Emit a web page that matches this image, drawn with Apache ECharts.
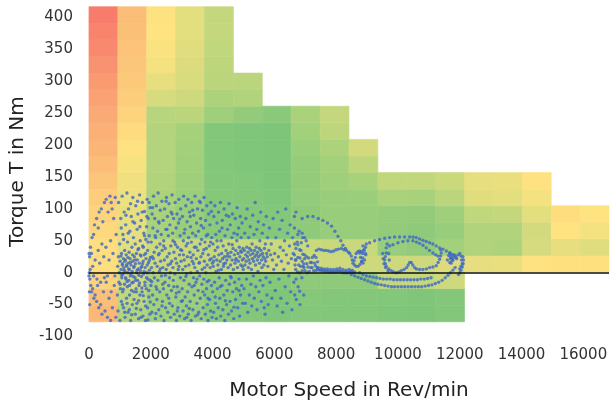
<!DOCTYPE html>
<html>
<head>
<meta charset="utf-8">
<script src="https://cdn.jsdelivr.net/npm/echarts@6/dist/echarts.min.js"></script>
<style>
    html, body {margin: 0; padding: 0; background: #fff;}
    #main {width: 612px; height: 408px;}
</style>
</head>
<body>
<div id="main"></div>
<script>
    // efficiency map bins
    var speedStep = 935;
    var torqueStart = -77;
    var torqueStep = 26;
    var speedTicks = [0, 2000, 4000, 6000, 8000, 10000, 12000, 14000, 16000];

    // efficiency per speed column, bottom row first (0 = red, 50 = yellow, 100 = green)
    var effCol0 = [24, 28, 40, 47, 47, 43, 40, 37, 32, 26, 23, 21, 19, 16, 13, 10, 7, 5, 2];
    var effCol1 = [72, 68, 62, 58, 58, 57, 56, 55, 54, 52, 49, 45, 40, 37, 34, 32, 30, 28, 27];
    var effCol2 = [78, 78, 74, 64, 64, 75, 75, 74, 73, 72, 72, 72, 71, 62, 57, 53, 51, 50, 49];
    var effCol3 = [82, 81, 78, 65, 65, 82, 82, 81, 80, 79, 78, 77, 70, 64, 61, 60, 59, 58, 58];
    var effCol4 = [90, 89, 86, 66, 66, 89, 91, 92, 93, 94, 94, 94, 80, 74, 70, 69, 68, 67, 67];
    var effCol5 = [93, 93, 90, 65, 66, 92, 93, 93, 94, 95, 95, 95, 86, 73, 70];
    var effCol6 = [95, 95, 92, 63, 65, 92, 94, 95, 96, 96, 96, 96, 90];
    var effCol7 = [93, 92, 88, 63, 65, 88, 88, 87, 86, 85, 82, 78, 75];
    var effCol8 = [94, 93, 88, 64, 66, 84, 84, 83, 80, 78, 74, 69, 67];
    var effCol9 = [94, 93, 88, 64, 66, 84, 84, 82, 76, 69, 63];
    var effCol10 = [95, 94, 67, 64, 84, 86, 85, 75, 68];
    var effCol11 = [96, 95, 67, 64, 86, 88, 86, 76, 68];
    var effCol12 = [94, 93, 64, 60, 78, 84, 80, 70, 65];
    var effCol13 = [57, 73, 73, 68, 59, 57];
    var effCol14 = [56, 74, 73, 67, 58, 56];
    var effCol15 = [49, 62, 63, 58, 53, 49];
    var effCol16 = [48, 57, 50, 46];
    var effCol17 = [48, 59, 53, 50];
    var effColumns = [effCol0, effCol1, effCol2, effCol3, effCol4, effCol5, effCol6, effCol7, effCol8,
        effCol9, effCol10, effCol11, effCol12, effCol13, effCol14, effCol15, effCol16, effCol17];
    var firstRow = [0, 0, 0, 0, 0, 0, 0, 0, 0, 0, 0, 0, 0, 3, 3, 3, 3, 3];

    // measured operating points [speed, torque]
    var lowSpeedPoints = [
        [20,25],[50,40],[80,30],[100,55],[150,60],[180,75],[250,85],[300,70],[330,95],[400,100],[450,80],[500,110],
        [560,115],[620,95],[680,120],[720,110],[750,100],[800,85],[850,118],
        [30,-10],[60,-20],[90,-30],[120,-25],[160,-40],[200,-35],[250,-45],[280,-20],[320,-55],[380,-50],[420,-65],
        [470,-30],[520,-60],[560,-15],[600,-70],[650,-40],[700,-75],[760,-55],[820,-20],[870,-70],
        [10,0],[40,5],[120,10],[200,20],[300,35],[350,15],[420,45],[480,25],[550,40],[600,-5],[650,20],[700,50],
        [780,30],[840,-5],[880,60],[150,-5],[260,-10],[380,-15],[500,-8],[720,-30],[0,-5],[15,-30],[5,30],[25,-50]
    ];
    var band1Points = [
        [920,-35],[930,10],[940,-60],[955,25],[960,110],[970,-15],[985,0],[995,45],[1005,-75],[1010,18],[1020,-25],
        [1030,85],[1040,5],[1050,-45],[1055,30],[1065,-8],[1075,120],[1080,12],[1090,-30],[1100,60],[1105,-2],
        [1115,22],[1120,-55],[1130,8],[1140,95],[1150,-18],[1155,35],[1165,2],[1170,-70],[1180,20],[1190,75],
        [1200,-10],[1205,28],[1215,-40],[1225,10],[1230,125],[1240,-22],[1250,48],[1255,0],[1265,-62],[1270,15],
        [1280,100],[1290,-12],[1300,32],[1305,5],[1315,-35],[1325,65],[1330,22],[1340,-5],[1350,-75],[1360,12],
        [1370,88],[1380,-28],[1390,40],[1395,2],[1405,-50],[1415,18],[1420,118],[1430,-15],[1440,55],[1450,8],
        [1460,-42],[1470,25],[1480,78],[1490,-8],[1500,-65],[1505,14],[1515,105],[1525,-25],[1535,30],[1540,0],
        [1550,-48],[1560,68],[1565,20],[1575,-12],[1585,92],[1595,6],[1605,-72],[1610,38],[1620,-20],[1630,15],
        [1640,122],[1650,-35],[1660,50],[1665,3],[1675,-58],[1685,26],[1690,82],[1700,-6],[1710,10],[1720,-30],
        [1730,110],[1740,42],[1750,-68],[1755,18],[1765,-2],[1775,62],[1785,-45],[1790,28],[1800,96],[1810,-15],
        [1820,8],[1830,-75],[1840,52],[1845,22],[1855,-25],[1865,72],[1875,0],[1885,115],[1895,-55],[1900,35],
        [1910,-10],[1920,85],[1930,16],[1940,-38],[1950,58],[1960,4],[1970,-65],[1980,102],[1990,24]
    ];
    var band2Points = [
        [2005,-20],[2015,48],[2025,8],[2035,-62],[2045,92],[2050,25],[2060,-35],[2070,70],[2080,0],[2090,120],
        [2100,-50],[2110,32],[2120,-8],[2130,85],[2140,15],[2150,-72],[2160,55],[2170,-22],[2180,105],[2190,40],
        [2200,-42],[2210,10],[2220,65],[2230,-12],[2240,125],[2250,28],[2260,-58],[2270,78],[2280,2],[2290,-30],
        [2300,45],[2310,98],[2320,18],[2330,-68],[2340,60],[2350,-5],[2360,112],[2370,35],[2380,-45],[2390,8],
        [2400,82],[2410,-25],[2420,50],[2430,-75],[2440,20],[2450,100],[2460,-15],[2470,38],[2480,-55],[2490,68],
        [2500,5],[2510,118],[2520,-35],[2530,25],[2540,88],[2550,-62],[2560,12],[2570,58],[2580,-20],[2590,108],
        [2600,30],[2610,-48],[2620,75],[2630,0],[2640,-70],[2650,42],[2660,95],[2670,-28],[2680,18],[2690,122],
        [2700,-52],[2710,62],[2720,8],[2730,-12],[2740,85],[2750,32],[2760,-65],[2770,48],[2780,-2],[2790,110],
        [2800,22],[2810,-38],[2820,70],[2830,-75],[2840,15],[2850,92],[2860,-22],[2870,40],[2880,-55],[2890,5],
        [2900,78],[2910,115],[2920,-30],[2930,28],[2940,-68],[2950,58],[2960,-8],[2970,100],[2980,18],[2990,-45]
    ];
    var band3Points = [
        [3005,35],[3015,-25],[3025,88],[3035,5],[3045,-60],[3055,50],[3065,120],[3075,-12],[3085,20],[3095,-72],
        [3105,68],[3115,-38],[3125,10],[3135,105],[3145,42],[3155,-52],[3165,-2],[3175,80],[3185,25],[3195,-30],
        [3205,115],[3215,-65],[3225,55],[3235,12],[3245,-18],[3255,95],[3265,32],[3275,-45],[3285,72],[3295,0],
        [3305,-75],[3315,48],[3325,110],[3335,-22],[3345,18],[3355,62],[3365,-58],[3375,28],[3385,-8],[3395,90],
        [3405,-35],[3415,40],[3425,8],[3435,120],[3445,-68],[3455,58],[3465,-15],[3475,22],[3485,78],[3495,-48],
        [3505,2],[3515,100],[3525,35],[3535,-28],[3545,65],[3555,-62],[3565,15],[3575,112],[3585,-5],[3595,45],
        [3605,-40],[3615,85],[3625,25],[3635,-72],[3645,52],[3655,-18],[3665,5],[3675,98],[3685,30],[3695,-55],
        [3705,70],[3715,-10],[3725,118],[3735,18],[3745,-35],[3755,48],[3765,-65],[3775,82],[3785,0],[3795,38],
        [3805,-25],[3815,105],[3825,12],[3835,-50],[3845,60],[3855,-75],[3865,28],[3875,92],[3885,-12],[3895,42],
        [3905,-42],[3915,75],[3925,8],[3935,-60],[3945,110],[3955,22],[3965,-20],[3975,55],[3985,-70],[3995,15]
    ];
    var band4Points = [
        [4005,-30],[4015,45],[4025,10],[4035,-62],[4045,88],[4055,25],[4065,-15],[4075,105],[4085,35],[4095,-48],
        [4105,60],[4115,2],[4125,-72],[4135,20],[4145,78],[4155,-25],[4165,40],[4175,12],[4185,-55],[4195,95],
        [4205,28],[4215,-8],[4225,65],[4235,-40],[4245,18],[4255,110],[4265,-68],[4275,50],[4285,5],[4295,30],
        [4305,-20],[4315,82],[4325,22],[4335,-58],[4345,42],[4355,10],[4365,-35],[4375,100],[4385,25],[4395,-75],
        [4405,58],[4415,15],[4425,-12],[4435,35],[4445,90],[4455,-50],[4465,20],[4475,-28],[4485,68],[4495,30],
        [4505,8],[4515,-65],[4525,45],[4535,108],[4545,-18],[4555,25],[4565,-45],[4575,75],[4585,12],[4595,32],
        [4605,-8],[4615,-60],[4625,55],[4635,20],[4645,92],[4655,-30],[4665,38],[4675,5],[4685,-72],[4695,62],
        [4705,28],[4715,-15],[4725,15],[4735,85],[4745,-42],[4755,35],[4765,22],[4775,-25],[4785,50],[4795,102],
        [4805,8],[4815,-55],[4825,30],[4835,18],[4845,70],[4855,-10],[4865,40],[4875,-68],[4885,25],[4895,88],
        [4905,-35],[4915,12],[4925,55],[4935,32],[4945,-20],[4955,78],[4965,20],[4975,-48],[4985,38],[4995,5]
    ];
    var band5Points = [
        [5010,22],[5020,-25],[5030,35],[5040,62],[5050,12],[5060,-48],[5070,28],[5080,85],[5090,18],[5100,-10],
        [5110,40],[5120,100],[5130,25],[5140,-62],[5150,32],[5160,8],[5170,55],[5180,20],[5190,-35],[5200,38],
        [5210,15],[5220,72],[5230,28],[5240,-18],[5250,35],[5260,5],[5270,-52],[5280,45],[5290,22],[5300,90],
        [5310,30],[5320,-5],[5330,18],[5340,60],[5350,-40],[5360,35],[5370,25],[5380,110],[5390,12],[5400,-22],
        [5410,40],[5420,28],[5430,68],[5440,-58],[5450,20],[5460,32],[5470,2],[5480,80],[5490,25],[5500,-30],
        [5510,38],[5520,15],[5530,50],[5540,-12],[5550,28],[5560,95],[5570,35],[5580,-45],[5590,20],[5600,8],
        [5610,62],[5620,30],[5630,-20],[5640,25],[5650,75],[5660,12],[5670,-55],[5680,38],[5690,22],[5700,-65],
        [5710,45],[5720,18],[5730,-8],[5740,88],[5750,30],[5760,-35],[5770,25],[5780,55],[5790,10],[5800,-50],
        [5820,35],[5840,70],[5860,-15],[5880,28],[5900,45],[5920,-40],[5940,20],[5960,85],[5980,5]
    ];
    var band6Points = [
        [6010,30],[6030,-28],[6050,55],[6070,12],[6090,-52],[6110,95],[6130,25],[6150,-10],[6170,68],[6190,40],
        [6210,-40],[6230,18],[6250,82],[6270,-62],[6290,35],[6310,5],[6330,50],[6350,-22],[6370,100],[6390,28],
        [6410,-48],[6430,62],[6450,15],[6470,-5],[6490,42],[6510,75],[6530,-30],[6550,22],[6570,-58],[6590,55],
        [6610,30],[6630,-15],[6650,88],[6680,20],[6710,-42],[6740,48],[6770,-22],[6800,65],[6830,-50],[6860,35],
        [6890,-8],[6920,55],[6950,-35],[6980,28],
        [6660,45],[6700,38],[6760,44],[6820,36],[6870,47],[6925,29],[7030,50],[7080,42],[6650,28],[6700,-10],
        [6660,-35],[6820,-29],[6650,70],[6760,60],[6900,62],[6980,55],[6700,95]
    ];
    var extraPoints = [
        [1012,-18],[1037,26],[1063,-4],[1088,14],[1112,-26],[1137,4],[1162,18],[1187,-8],[1212,12],[1237,-14],
        [1262,24],[1287,6],[1312,-20],[1337,16],[1362,-2],[1387,-16],[1412,28],[1437,-6],[1462,10],[1487,20],
        [1512,-12],[1537,-30],[1562,4],[1587,36],[1612,-4],[1637,-16],[1662,28],[1687,8],[1712,-24],[1737,14],
        [1762,40],[1787,2],[1812,-20],[1837,30],[1862,-8],[1887,12],[1912,48],[1937,-28],[1962,20],[1987,-12],
        [1047,70],[1123,52],[1198,90],[1273,62],[1348,108],[1423,80],[1498,45],[1573,112],[1648,72],[1723,95],
        [1798,58],[1873,88],[1948,110],
        [1083,-50],[1158,-62],[1233,-48],[1308,-58],[1383,-66],[1458,-30],[1533,-56],[1608,-44],[1683,-70],
        [1758,-36],[1833,-52],[1908,-74],[1983,-46],
        [2032,-14],[2087,22],[2143,58],[2198,-26],[2254,80],[2309,6],[2364,-52],[2418,42],[2473,-4],[2528,68],
        [2583,-40],[2637,14],[2692,92],[2747,-22],[2803,44],[2857,-60],[2912,10],[2967,36],[2058,102],[2168,-64],
        [2277,30],[2387,-18],[2497,112],[2607,-8],[2717,50],[2827,-32],[2937,84],
        [3027,-44],[3082,62],[3137,-6],[3192,46],[3247,-56],[3302,24],[3357,98],[3412,-20],[3467,40],[3522,-66],
        [3577,16],[3632,74],[3687,-30],[3742,8],[3797,58],[3852,-40],[3907,20],[3962,96],[3057,28],[3167,-70],
        [3277,88],[3387,14],[3497,-10],[3607,110],[3717,36],[3827,-14],[3937,48],
        [4032,18],[4087,-38],[4142,50],[4197,4],[4252,-22],[4307,70],[4362,14],[4417,-44],[4472,26],[4527,88],
        [4582,-6],[4637,44],[4692,-54],[4747,20],[4802,60],[4857,-28],[4912,34],[4967,10]
    ];
    var loopPoints = [
        // small loops around 7000 rpm
        [6670,12],[6700,20],[6760,24],[6830,23],[6900,18],[6930,10],[6900,3],[6830,0],[6750,1],[6690,5],
        [6950,14],[6980,22],[7040,25],[7110,23],[7170,16],[7180,8],[7130,2],[7060,0],[6990,3],[6960,8],
        [7200,16],[7230,24],[7290,27],[7350,24],[7400,17],[7390,8],[7340,3],[7270,3],[7220,8],
        [6790,12],[6850,10],[7050,14],[7090,9],[7300,15],[7330,11],
        // cruising line
        [7400,5],[7450,4],[7500,4],[7550,3],[7600,3],[7650,2],[7700,3],[7750,2],[7800,1],[7850,2],[7900,1],
        [7950,1],[8000,2],[8050,2],[8100,3],[8150,2],[8200,1],[8250,0],[8300,1],[8350,0],[8400,1],[8450,2],
        [8500,1],[8550,0],[8600,1],
        [7420,8],[7520,7],[7620,6],[7720,6],[7820,5],[7920,5],[8020,6],[8120,7],[8220,5],[8320,4],[8420,5],[8520,4],
        [7360,35],[7440,37],[7520,36],[7600,35],[7680,35],[7760,34],[7840,33],[7920,34],[8000,36],[8080,37],
        [8170,38],[8250,36],[8330,35],[8400,32],
        [8440,30],[8490,26],[8520,20],[8545,15],[8590,12],[8650,10],[8710,10],[8770,13],[8820,17],[8860,23],
        [8860,30],[8820,33],[8760,34],[8700,33],[8650,30],[8620,24],[8580,19],[8900,35],[8950,30],[8950,40],
        [6900,85],[7080,88],[7250,88],[7420,85],[7570,82],[7720,78],[7850,73],[7960,65],[8060,57],[8150,50],
        [8220,43],[8300,38],
        // high speed loops
        [8490,-3],[8600,-5],[8706,-7],[8810,-9],[8922,-11],[9030,-13],[9137,-15],[9245,-17],[9353,-18],[9460,-19],
        [9570,-20],[9680,-21],[9790,-22],[9890,-22],[10000,-22],[10110,-22],[10220,-22],[10330,-22],[10440,-22],
        [10550,-22],[10660,-22],[10770,-22],[10880,-21],[10990,-20],[11100,-19],[11210,-17],[11320,-15],
        [11430,-12],[11530,-8],[11620,-4],[11700,0],[11780,4],[11850,8],
        [8760,0],[8870,-3],[8980,-5],[9090,-6],[9200,-7],[9310,-8],[9420,-9],[9530,-10],[9640,-10],[9750,-10],
        [9860,-11],[9970,-11],[10080,-11],[10190,-11],[10300,-11],[10410,-11],[10520,-11],[10630,-11],[10740,-10],
        [10850,-10],[10960,-9],[11070,-8],
        [8868,42],[8975,45],[9083,47],[9245,50],[9406,52],[9570,54],[9730,55],[9890,56],[10053,56],[10215,56],
        [10377,56],[10490,56],[10593,55],[10700,53],[10809,51],[10916,49],[11024,47],[11130,45],[11240,42],
        [11350,39],[11456,37],[11565,34],[11672,31],[11780,28],[11880,24],
        [9622,39],[9730,42],[9838,44],[10000,47],[10161,49],[10320,50],[10485,50],[10600,48],[10700,46],
        [10810,43],[10916,39],[11020,35],[11131,31],[11220,28],[11293,26],
        [8760,31],[8790,24],[8830,18],[8870,15],[8920,20],[8960,28],[8900,36],
        [9622,31],[9590,25],[9568,20],[9590,14],[9622,10],[9700,6],[9784,3],[9860,1],[9946,0],[10030,1],
        [10108,3],[10200,5],[10280,8],[10330,12],[10380,16],[10430,16],[10480,12],[10540,8],[10600,6],[10700,5],
        [10808,5],[10920,6],[11024,8],[11130,9],[11240,11],[11300,16],[11348,21],[11380,26],[11400,31],[11380,36],
        [9650,45],[9700,30],[9720,20],[9505,30],[9520,22],[9550,14],[9600,8],[9680,3],
        [11600,20],[11640,27],[11680,31],[11720,29],[11700,22],[11680,16],[11720,15],[11760,19],[11800,24],
        [11820,28],[11860,26],[11900,22],[11950,28],[12000,30],[12040,26],[12060,20],[12080,14],[12040,10],
        [12000,6],[11700,25],[11740,23],[11780,20],
        [12100,25],[12118,20],[12110,14],[12080,9],[12040,4],[12000,0],[11960,-3]
    ];

    var cells = [];
    effColumns.forEach(function (col, c) {
        col.forEach(function (v, i) {
            cells.push([c, firstRow[c] + i, v]);
        });
    });

    var points = [].concat(lowSpeedPoints, band1Points, band2Points, band3Points, band4Points,
        band5Points, band6Points, extraPoints, loopPoints);

    var labelFont = {color: '#333', fontSize: 15, fontFamily: 'DejaVu Sans'};
    var nameFont = {color: '#222', fontSize: 20, fontFamily: 'DejaVu Sans'};

    var chart = echarts.init(document.getElementById('main'));
    chart.setOption({
        animation: false,
        grid: {left: 88.5, right: 3, top: 6.7, bottom: 71.5},
        xAxis: {
            type: 'value',
            min: 0,
            max: speedStep * effColumns.length,
            interval: 2000,
            name: 'Motor Speed in Rev/min',
            nameLocation: 'middle',
            nameGap: 44,
            nameTextStyle: nameFont,
            axisLine: {show: false},
            axisTick: {show: false},
            splitLine: {show: false},
            axisLabel: Object.assign({
                margin: 11,
                formatter: function (v) {
                    return speedTicks.indexOf(v) >= 0 ? String(v) : '';
                }
            }, labelFont)
        },
        yAxis: {
            type: 'value',
            min: -100,
            max: torqueStart + torqueStep * 19,
            interval: 50,
            name: 'Torque T in Nm',
            nameLocation: 'middle',
            nameGap: 57,
            nameTextStyle: nameFont,
            axisLine: {show: false},
            axisTick: {show: false},
            splitLine: {show: false},
            axisLabel: Object.assign({
                margin: 16,
                formatter: function (v) {
                    return v % 50 === 0 ? String(v) : '';
                }
            }, labelFont)
        },
        visualMap: {
            show: false,
            type: 'continuous',
            seriesIndex: 0,
            dimension: 2,
            min: 0,
            max: 100,
            inRange: {color: ['#f8766b', '#fbbb77', '#fee380', '#a9d27b', '#76c37a']}
        },
        series: [
            {
                type: 'custom',
                silent: true,
                data: cells,
                encode: {x: 0, y: 1},
                renderItem: function (params, api) {
                    var c = api.value(0), r = api.value(1);
                    var p0 = api.coord([c * speedStep, torqueStart + r * torqueStep]);
                    var p1 = api.coord([(c + 1) * speedStep, torqueStart + (r + 1) * torqueStep]);
                    var color = api.visual('color');
                    return {
                        type: 'rect',
                        shape: {x: p0[0], y: p1[1], width: p1[0] - p0[0], height: p0[1] - p1[1]},
                        style: {fill: color, stroke: color, lineWidth: 0.6}
                    };
                }
            },
            {
                type: 'scatter',
                symbolSize: 3.4,
                itemStyle: {color: '#3d68c6'},
                data: points,
                markLine: {
                    silent: true,
                    symbol: 'none',
                    label: {show: false},
                    lineStyle: {color: '#111', width: 1.5, type: 'solid'},
                    data: [{yAxis: 0}]
                }
            }
        ]
    });
</script>
</body>
</html>
